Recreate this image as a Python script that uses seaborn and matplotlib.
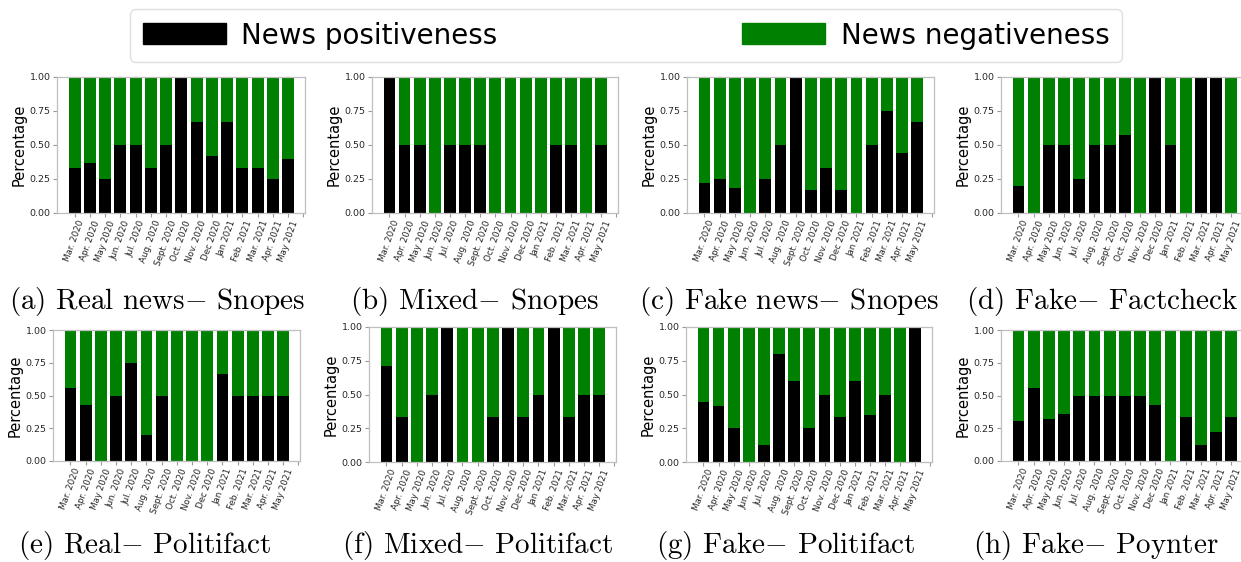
import numpy as np
import pandas as pd
import matplotlib
matplotlib.use("Agg")
import matplotlib.pyplot as plt
from matplotlib.patches import Patch
import seaborn as sns

months = ["Mar. 2020", "Apr. 2020", "May 2020", "Jun. 2020", "Jul. 2020",
          "Aug. 2020", "Sept. 2020", "Oct. 2020", "Nov. 2020", "Dec 2020",
          "Jan 2021", "Feb. 2021", "Mar. 2021", "Apr. 2021", "May 2021"]

# share of positive news per month for each source / label
real_snopes = [0.333, 0.364, 0.25, 0.5, 0.5, 0.333, 0.5, 1.0, 0.667, 0.417, 0.667, 0.333, 0.333, 0.25, 0.4]
mixed_snopes = [1.0, 0.5, 0.5, 0.0, 0.5, 0.5, 0.5, 0.0, 0.0, 0.0, 0.0, 0.5, 0.5, 0.0, 0.5]
fake_snopes = [0.222, 0.25, 0.182, 0.0, 0.25, 0.5, 1.0, 0.167, 0.333, 0.167, 0.0, 0.5, 0.75, 0.444, 0.667]
fake_factcheck = [0.2, 0.0, 0.5, 0.5, 0.25, 0.5, 0.5, 0.571, 0.0, 1.0, 0.5, 0.0, 1.0, 1.0, 0.0]
real_politifact = [0.556, 0.429, 0.0, 0.5, 0.75, 0.2, 0.5, 0.0, 0.0, 0.0, 0.667, 0.5, 0.5, 0.5, 0.5]
mixed_politifact = [0.714, 0.333, 0.0, 0.5, 1.0, 0.0, 0.0, 0.333, 1.0, 0.333, 0.5, 1.0, 0.333, 0.5, 0.5]
fake_politifact = [0.444, 0.417, 0.25, 0.0, 0.125, 0.8, 0.6, 0.25, 0.5, 0.333, 0.6, 0.35, 0.5, 0.0, 1.0]
fake_poynter = [0.308, 0.556, 0.32, 0.357, 0.5, 0.5, 0.5, 0.5, 0.5, 0.429, 0.0, 0.333, 0.125, 0.222, 0.333]

captions = ["(a) Real news$-$ Snopes", "(b) Mixed$-$ Snopes",
            "(c) Fake news$-$ Snopes", "(d) Fake$-$ Factcheck",
            "(e) Real$-$ Politifact", "(f) Mixed$-$ Politifact",
            "(g) Fake$-$ Politifact", "(h) Fake$-$ Poynter"]
series = [real_snopes, mixed_snopes, fake_snopes, fake_factcheck,
          real_politifact, mixed_politifact, fake_politifact, fake_poynter]

POS_COLOR = "black"
NEG_COLOR = "green"

sns.set_theme(style="whitegrid", rc={
    "axes.grid": False,
    "axes.edgecolor": ".75",
    "axes.linewidth": 0.9,
    "xtick.bottom": True,
    "ytick.left": True,
    "xtick.color": ".6",
    "ytick.color": ".6",
    "xtick.labelcolor": ".15",
    "ytick.labelcolor": ".15",
    "xtick.major.size": 3,
    "ytick.major.size": 3,
    "xtick.major.width": 0.8,
    "ytick.major.width": 0.8,
})
plt.rcParams["font.family"] = ["DejaVu Sans"]
plt.rcParams["mathtext.fontset"] = "cm"

W, H = 1241, 562
fig = plt.figure(figsize=(W / 100, H / 100), dpi=100)

# panel boxes in pixels: left, top, right, bottom
boxes = [(57, 77, 305, 213), (372, 77, 618, 213), (687, 77, 934, 213), (1001, 77, 1248, 213),
         (53, 330, 300, 461), (369, 327, 616, 462), (686, 327, 932, 462), (1001, 330, 1248, 461)]
cap_pos = [(157, 301), (474, 301), (789, 301), (1102, 301),
           (144, 545), (478, 545), (786, 545), (1096, 545)]

for pos, box, cap, cp in zip(series, boxes, captions, cap_pos):
    l, t, r, b = box
    ax = fig.add_axes([l / W, 1 - b / H, (r - l) / W, (b - t) / H])
    df = pd.DataFrame({"month": months, "pos": pos})
    df["neg"] = 1 - df["pos"]
    df["total"] = df["pos"] + df["neg"]
    sns.barplot(data=df, x="month", y="total", color=NEG_COLOR, saturation=1,
                width=0.78, ax=ax, linewidth=0)
    sns.barplot(data=df, x="month", y="pos", color=POS_COLOR, saturation=1,
                width=0.78, ax=ax, linewidth=0)
    ax.set_xlim(-1.15, 15.1)
    ax.set_ylim(0, 1.0)
    ax.set_xticks(range(len(months) + 1))
    ax.set_xticklabels(months + [""], rotation=70, fontsize=6.3)
    ax.set_yticks([0, 0.25, 0.5, 0.75, 1.0])
    ax.set_yticklabels(["0.00", "0.25", "0.50", "0.75", "1.00"], fontsize=6.8)
    ax.tick_params(axis="both", pad=1.5)
    ax.set_xlabel("")
    ax.set_ylabel("Percentage", fontsize=10.5, labelpad=2, color="black")
    fig.text(cp[0] / W, 1 - cp[1] / H, cap, ha="center", va="center",
             fontsize=21, family="cmr10", color="black")

handles = [Patch(facecolor=POS_COLOR, edgecolor=POS_COLOR, label="News positiveness"),
           Patch(facecolor=NEG_COLOR, edgecolor=NEG_COLOR, label="News negativeness")]
leg = fig.legend(handles=handles, loc="lower left", ncol=2, mode="expand",
                 bbox_to_anchor=(130 / W, 1 - 62 / H, (1122 - 130) / W, 52 / H),
                 fontsize=20, handlelength=3.0, handleheight=0.8, handletextpad=0.55,
                 borderpad=0.45, borderaxespad=0, frameon=True, fancybox=True,
                 labelcolor="black")
leg.get_frame().set_edgecolor("#d8d8d8")
leg.get_frame().set_linewidth(1.0)

fig.savefig("out.png", dpi=100)
